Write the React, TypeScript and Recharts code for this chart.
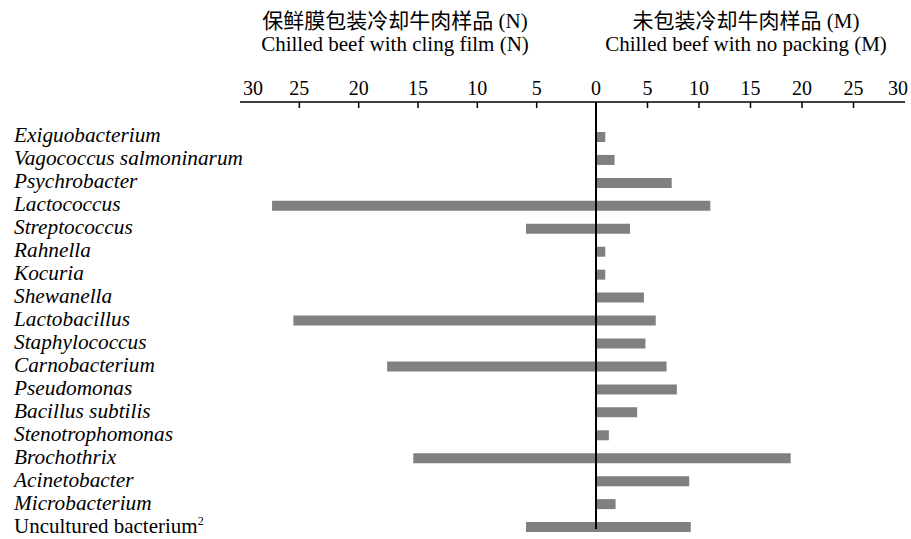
import React from 'react';
import { BarChart, Bar, XAxis, YAxis, ReferenceLine } from 'recharts';

const categories = [
  'Exiguobacterium',
  'Vagococcus salmoninarum',
  'Psychrobacter',
  'Lactococcus',
  'Streptococcus',
  'Rahnella',
  'Kocuria',
  'Shewanella',
  'Lactobacillus',
  'Staphylococcus',
  'Carnobacterium',
  'Pseudomonas',
  'Bacillus subtilis',
  'Stenotrophomonas',
  'Brochothrix',
  'Acinetobacter',
  'Microbacterium',
  'Uncultured bacterium',
];
const clingFilmN = [0, 0, 0, 27.3, 5.9, 0, 0, 0, 25.5, 0, 17.6, 0, 0, 0, 15.4, 0, 0, 5.9];
const noPackingM = [0.9, 1.8, 7.35, 11.1, 3.3, 0.9, 0.9, 4.65, 5.8, 4.8, 6.85, 7.85, 4.0, 1.25, 18.9, 9.05, 1.9, 9.2];
const leftTicks = [0, 5, 10, 15, 20, 25, 30];
const rightTicks = [5, 10, 15, 20, 25, 30];
const titleN = ['保鲜膜包装冷却牛肉样品 (N)', 'Chilled beef with cling film (N)'];
const titleM = ['未包装冷却牛肉样品 (M)', 'Chilled beef with no packing (M)'];

const leftData = categories.map((name, i) => ({ name, n: clingFilmN[i] }));
const rightData = categories.map((name, i) => ({ name, m: noPackingM[i] }));

const SERIF = '"Liberation Serif", "Times New Roman", "Noto Sans CJK SC", serif';
const TICK_MARGIN = 7;
const BAR_COLOR = '#808080';

const TopTick = (props: any) => {
  const { x, y, payload, side } = props;
  const v = payload.value;
  const axisY = y + TICK_MARGIN;
  const isEnd = v === 30;
  const dx = isEnd ? (side === 'left' ? 13 : -7) : 0;
  return (
    <g>
      {!isEnd && <line x1={x} x2={x} y1={axisY} y2={axisY + 6} stroke="#000" strokeWidth={1.5} />}
      <text x={x + dx} y={y} textAnchor="middle" fontFamily={SERIF} fontSize={20} fill="#000">
        {v}
      </text>
    </g>
  );
};

const NameTick = (props: any) => {
  const { y, payload } = props;
  const name = payload.value;
  if (name === 'Uncultured bacterium') {
    return (
      <text x={14} y={y + 5} fontFamily={SERIF} fontSize={21} fill="#000">
        {name}
        <tspan fontSize={12} dy={-8}>2</tspan>
      </text>
    );
  }
  return (
    <text x={14} y={y + 5} fontFamily={SERIF} fontSize={21.3} fontStyle="italic" fill="#000">
      {name}
    </text>
  );
};

export default function App() {
  return (
    <div style={{ position: 'absolute', left: 0, top: 0, width: 911, height: 539, background: '#fff', overflow: 'hidden' }}>
      <svg width={911} height={60} style={{ position: 'absolute', left: 0, top: 0 }}>
        <text x={395} y={28} textAnchor="middle" fontFamily={SERIF} fontSize={21} fill="#000">{titleN[0]}</text>
        <text x={395} y={51} textAnchor="middle" fontFamily={SERIF} fontSize={21} fill="#000">{titleN[1]}</text>
        <text x={746} y={28} textAnchor="middle" fontFamily={SERIF} fontSize={21} fill="#000">{titleM[0]}</text>
        <text x={746} y={51} textAnchor="middle" fontFamily={SERIF} fontSize={21} fill="#000">{titleM[1]}</text>
      </svg>
      <div style={{ position: 'absolute', left: 0, top: 0 }}>
        <BarChart
          layout="vertical"
          width={612}
          height={539}
          data={leftData}
          margin={{ top: 0, right: 16, bottom: 10, left: 0 }}
          barSize={10}
        >
          <XAxis
            type="number"
            orientation="top"
            domain={[0, 30]}
            reversed
            ticks={leftTicks}
            interval={0}
            height={102}
            tickLine={false}
            tickSize={0}
            tickMargin={TICK_MARGIN}
            axisLine={{ stroke: '#000', strokeWidth: 1.5 }}
            tick={<TopTick side="left" />}
          />
          <YAxis
            type="category"
            dataKey="name"
            width={240}
            axisLine={false}
            tickLine={false}
            interval={0}
            padding={{ top: 24, bottom: -10 }}
            tick={<NameTick />}
          />
          <Bar dataKey="n" fill={BAR_COLOR} isAnimationActive={false} />
        </BarChart>
      </div>
      <div style={{ position: 'absolute', left: 592, top: 0 }}>
        <BarChart
          layout="vertical"
          width={317}
          height={539}
          data={rightData}
          margin={{ top: 0, right: 4, bottom: 10, left: 4 }}
          barSize={10}
        >
          <XAxis
            type="number"
            orientation="top"
            domain={[0, 30]}
            ticks={rightTicks}
            interval={0}
            height={102}
            tickLine={false}
            tickSize={0}
            tickMargin={TICK_MARGIN}
            axisLine={{ stroke: '#000', strokeWidth: 1.5 }}
            tick={<TopTick side="right" />}
          />
          <YAxis
            type="category"
            dataKey="name"
            hide
            interval={0}
            padding={{ top: 24, bottom: -10 }}
          />
          <Bar dataKey="m" fill={BAR_COLOR} isAnimationActive={false} />
          <ReferenceLine x={0} stroke="#000" strokeWidth={2} />
        </BarChart>
      </div>
    </div>
  );
}
